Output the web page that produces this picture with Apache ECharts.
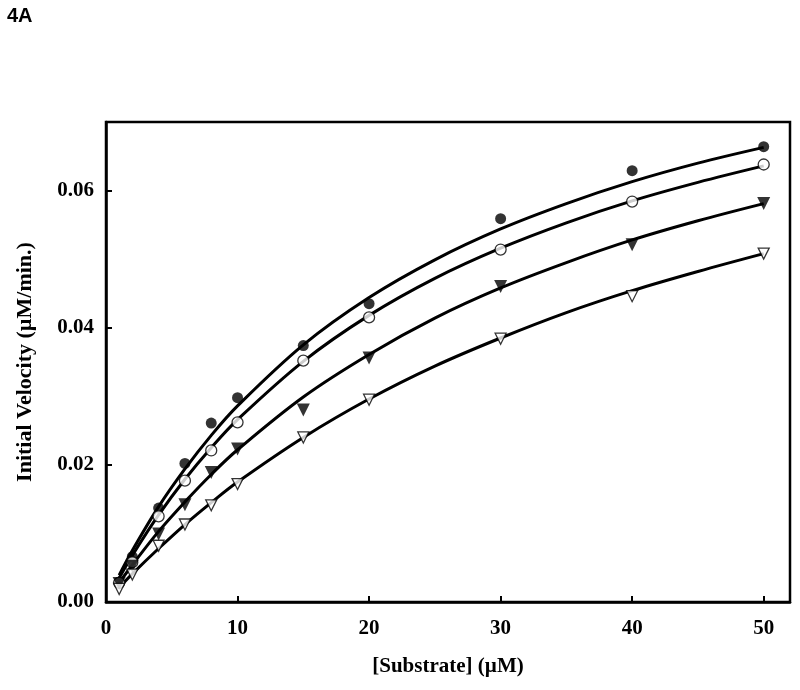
<!DOCTYPE html>
<html>
<head>
<meta charset="utf-8">
<script src="https://cdn.jsdelivr.net/npm/echarts@6/dist/echarts.min.js"></script>
<style>html,body{margin:0;padding:0;background:#fff}#c{width:800px;height:690px}</style>
</head>
<body>
<div id="c"></div>
<script>
// Measured substrate concentrations (µM)
const substrate = [1, 2, 4, 6, 8, 10, 15, 20, 30, 40, 50];
// Measured initial velocities (µM/min.)
const filledCircle = [0.0029, 0.0066, 0.0137, 0.0202, 0.0261, 0.0298, 0.0374, 0.0435, 0.0559, 0.0629, 0.0664];
const openCircle   = [0.0028, 0.0058, 0.0125, 0.0177, 0.0221, 0.0262, 0.0352, 0.0415, 0.0514, 0.0584, 0.0638];
const filledTri    = [0.0027, 0.0052, 0.0099, 0.0142, 0.0189, 0.0223, 0.0280, 0.0356, 0.0460, 0.0521, 0.0581];
const openTri      = [0.0019, 0.0040, 0.0082, 0.0113, 0.0141, 0.0172, 0.0240, 0.0295, 0.0384, 0.0446, 0.0508];

// Fitted curves
const curveX  = [1, 2, 4, 6, 8, 10, 15, 20, 25, 30, 35, 40, 45, 50];
const curve1  = [0.0039, 0.0075, 0.0139, 0.0194, 0.0243, 0.0286, 0.0375, 0.0444, 0.0499, 0.0544, 0.0581, 0.0613, 0.0640, 0.0663];
const curve2  = [0.0035, 0.0068, 0.0127, 0.0179, 0.0225, 0.0266, 0.0351, 0.0418, 0.0472, 0.0516, 0.0553, 0.0585, 0.0612, 0.0636];
const curve3  = [0.0028, 0.0054, 0.0103, 0.0146, 0.0186, 0.0222, 0.0299, 0.0361, 0.0414, 0.0458, 0.0495, 0.0528, 0.0556, 0.0581];
const curve4  = [0.0021, 0.0041, 0.0078, 0.0113, 0.0145, 0.0175, 0.0240, 0.0296, 0.0344, 0.0385, 0.0422, 0.0454, 0.0482, 0.0508];

const xTicks = [0, 10, 20, 30, 40, 50];
const yTicks = [0.00, 0.02, 0.04, 0.06];

const pair = (xs, ys) => xs.map((x, i) => [x, ys[i]]);
const serif = 'Liberation Serif';

const chart = echarts.init(document.getElementById('c'), null, {renderer: 'canvas'});

function lineSeries(ys) {
  return {
    type: 'line', data: pair(curveX, ys), smooth: 0.35, showSymbol: false, silent: true,
    lineStyle: {color: '#000', width: 3}, z: 2
  };
}
function scatterSeries(ys, symbol, filled, rotate) {
  return {
    type: 'scatter', data: pair(substrate, ys), symbol: symbol,
    symbolSize: symbol === 'circle' ? 11 : (filled ? 13 : 11), symbolRotate: rotate || 0,
    itemStyle: {color: filled ? '#000' : '#fff', borderColor: '#000', borderWidth: filled ? 0 : 1.3},
    z: 3
  };
}

chart.setOption({
  animation: false,
  backgroundColor: '#fff',
  title: {
    text: '4A', left: 2, top: 1,
    textStyle: {fontFamily: 'Liberation Sans', fontWeight: 'bold', fontSize: 20, color: '#000'}
  },
  grid: {left: 106, top: 122, right: 10, bottom: 88, show: true, borderColor: '#000', borderWidth: 2.5, backgroundColor: 'transparent'},
  xAxis: {
    type: 'value', min: 0, max: 52, interval: 10,
    name: '[Substrate] (\u00B5M)', nameLocation: 'middle', nameGap: 54,
    nameTextStyle: {fontFamily: serif, fontWeight: 'bold', fontSize: 21, color: '#000'},
    axisLine: {lineStyle: {color: '#000', width: 2.5}},
    axisTick: {inside: true, length: 6, lineStyle: {color: '#000', width: 2}},
    axisLabel: {
      showMaxLabel: false, margin: 16, fontFamily: serif, fontWeight: 'bold', fontSize: 21, color: '#000',
      formatter: v => xTicks.indexOf(v) >= 0 ? String(v) : ''
    },
    splitLine: {show: false}
  },
  yAxis: {
    type: 'value', min: 0, max: 0.07, interval: 0.02,
    name: 'Initial Velocity (\u00B5M/min.)', nameLocation: 'middle', nameGap: 70,
    nameTextStyle: {fontFamily: serif, fontWeight: 'bold', fontSize: 22, color: '#000'},
    axisLine: {lineStyle: {color: '#000', width: 2.5}},
    axisTick: {inside: true, length: 6, lineStyle: {color: '#000', width: 2}},
    axisLabel: {
      showMaxLabel: false, margin: 12, fontFamily: serif, fontWeight: 'bold', fontSize: 21, color: '#000',
      formatter: v => yTicks.some(t => Math.abs(t - v) < 1e-9) ? v.toFixed(2) : ''
    },
    splitLine: {show: false}
  },
  series: [
    lineSeries(curve1), lineSeries(curve2), lineSeries(curve3), lineSeries(curve4),
    scatterSeries(filledCircle, 'circle', true),
    scatterSeries(openCircle, 'circle', false),
    scatterSeries(filledTri, 'triangle', true, 180),
    scatterSeries(openTri, 'triangle', false, 180)
  ]
});
</script>
</body>
</html>
